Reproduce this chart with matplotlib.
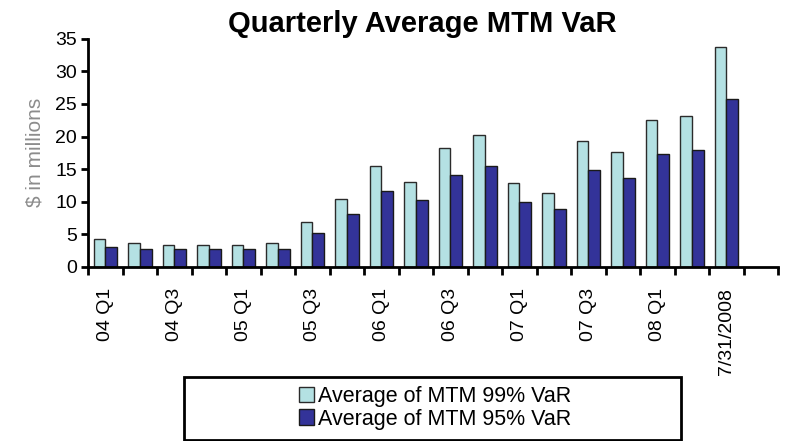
import numpy as np
import matplotlib.pyplot as plt
from matplotlib.patches import Rectangle

categories = ['04 Q1', '04 Q2', '04 Q3', '04 Q4', '05 Q1', '05 Q2', '05 Q3', '05 Q4',
              '06 Q1', '06 Q2', '06 Q3', '06 Q4', '07 Q1', '07 Q2', '07 Q3', '07 Q4',
              '08 Q1', '08 Q2', '7/31/2008']
var99 = [4.2, 3.7, 3.3, 3.3, 3.3, 3.7, 6.9, 10.4, 15.5, 13.0, 18.3, 20.2,
         12.9, 11.4, 19.3, 17.6, 22.5, 23.2, 33.8]
var95 = [3.1, 2.8, 2.7, 2.7, 2.7, 2.8, 5.2, 8.1, 11.6, 10.3, 14.1, 15.5,
         9.9, 8.8, 14.8, 13.7, 17.3, 18.0, 25.8]
n_slots = 20  # one empty category slot at the right end

plt.rcParams['font.family'] = ['Liberation Sans', 'DejaVu Sans']

fig = plt.figure(figsize=(7.86, 4.41), dpi=100)
ax = fig.add_axes([0.112, 0.395, 0.878, 0.517])

x = np.arange(len(categories))
w = 0.34
b1 = ax.bar(x - w / 2, var99, w, color='#B4E1E3', edgecolor='#2b2b2b', linewidth=1.0,
            label='Average of MTM 99% VaR')
b2 = ax.bar(x + w / 2, var95, w, color='#333399', edgecolor='#1a1a1a', linewidth=1.0,
            label='Average of MTM 95% VaR')

ax.set_xlim(-0.5, n_slots - 0.5)
ax.set_ylim(0, 35)
ax.set_yticks(range(0, 36, 5))

# labels on every other category, tick marks on category boundaries
ax.set_xticks(x[::2])
ax.set_xticklabels(categories[::2], rotation=90, fontsize=14)
ax.tick_params(axis='x', which='major', length=0, pad=15)
ax.set_xticks(np.arange(n_slots + 1) - 0.5, minor=True)
ax.tick_params(axis='x', which='minor', length=6, width=2, direction='out')
ax.tick_params(axis='y', length=5, width=2, labelsize=14, pad=3)

for s in ['top', 'right']:
    ax.spines[s].set_visible(False)
for s in ['left', 'bottom']:
    ax.spines[s].set_linewidth(2)

ax.set_ylabel('$ in millions', fontsize=15, color='#8c8c8c', labelpad=8)

fig.text(0.537, 0.928, 'Quarterly Average MTM VaR', fontsize=21, fontweight='bold',
         ha='center', va='baseline')

# legend box
fig.patches.append(Rectangle((184 / 786, 1 / 441), 497 / 786, 63 / 441,
                             transform=fig.transFigure, fill=False,
                             edgecolor='black', linewidth=2))
fig.legend(handles=[b1, b2], loc='center', bbox_to_anchor=(435 / 786, 1 - 408 / 441),
           frameon=False, fontsize=15.5, handlelength=0.7, handleheight=0.7,
           handletextpad=0.2, labelspacing=0.05, borderpad=0)

fig.savefig('out.png', dpi=100)
